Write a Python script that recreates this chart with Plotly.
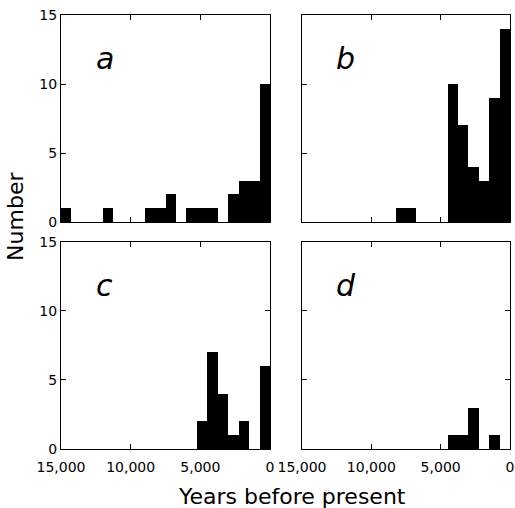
import plotly.graph_objects as go

# Bins: 750-year bins from 15,000 to 0 years before present
bin_width = 750
bin_starts = list(range(15000, 0, -bin_width))  # left (older) edge of each bin

counts_a = [1, 0, 0, 0, 1, 0, 0, 0, 1, 1, 2, 0, 1, 1, 1, 0, 2, 3, 3, 10]
counts_b = [0, 0, 0, 0, 0, 0, 0, 0, 0, 1, 1, 0, 0, 0, 10, 7, 4, 3, 9, 14]
counts_c = [0, 0, 0, 0, 0, 0, 0, 0, 0, 0, 0, 0, 0, 2, 7, 4, 1, 2, 0, 6]
counts_d = [0, 0, 0, 0, 0, 0, 0, 0, 0, 0, 0, 0, 0, 0, 1, 1, 3, 0, 1, 0]

panel_labels = ["a", "b", "c", "d"]
x_tick_vals = [15000, 10000, 5000, 0]
x_tick_text = ["15,000", "10,000", "5,000", "0"]
y_tick_vals = [0, 5, 10, 15]
y_tick_text = ["0", "5", "10", "15"]

centers = [s - bin_width / 2 for s in bin_starts]

FONT = "DejaVu Sans"
fig = go.Figure()

panels = [
    (counts_a, "x", "y", [0.0, 0.4655], [0.523, 1.0], True, False),
    (counts_b, "x2", "y2", [0.5367, 1.0], [0.523, 1.0], False, False),
    (counts_c, "x3", "y3", [0.0, 0.4655], [0.0, 0.477], True, True),
    (counts_d, "x4", "y4", [0.5367, 1.0], [0.0, 0.477], False, True),
]

layout = {}
for i, (cnt, xa, ya, xd, yd, show_y, show_x) in enumerate(panels):
    fig.add_trace(go.Bar(x=centers, y=cnt, width=bin_width, xaxis=xa, yaxis=ya,
                         marker=dict(color="black", line=dict(width=0)),
                         showlegend=False))
    xkey = "xaxis" if i == 0 else f"xaxis{i+1}"
    ykey = "yaxis" if i == 0 else f"yaxis{i+1}"
    layout[xkey] = dict(domain=xd, anchor=ya, range=[15000, 0], autorange=False,
                        tickvals=x_tick_vals, ticktext=x_tick_text,
                        showticklabels=show_x, ticks="inside", ticklen=5,
                        tickcolor="black", showline=True, linecolor="black",
                        linewidth=1, mirror="ticks", showgrid=False, zeroline=False,
                        automargin=False, ticklabelstandoff=5,
                        tickfont=dict(family=FONT, size=14, color="black"))
    layout[ykey] = dict(domain=yd, anchor=xa, range=[0, 15], autorange=False,
                        tickvals=y_tick_vals, ticktext=y_tick_text,
                        showticklabels=show_y, ticks="inside", ticklen=5,
                        tickcolor="black", showline=True, linecolor="black",
                        linewidth=1, mirror="ticks", showgrid=False, zeroline=False,
                        automargin=False,
                        tickfont=dict(family=FONT, size=14, color="black"))

annotations = []
for i, lab in enumerate(panel_labels):
    xa = "x" if i == 0 else f"x{i+1}"
    ya = "y" if i == 0 else f"y{i+1}"
    annotations.append(dict(text=lab, xref=f"{xa} domain", yref=f"{ya} domain",
                            x=0.21, y=0.79, showarrow=False,
                            xanchor="center", yanchor="middle",
                            font=dict(family=FONT, size=30, color="black", style="italic")))

annotations.append(dict(text="Years before present", xref="paper", yref="paper",
                        x=0.514, y=-0.11, showarrow=False, xanchor="center",
                        yanchor="middle", font=dict(family=FONT, size=22, color="black")))
annotations.append(dict(text="Number", xref="paper", yref="paper",
                        x=-0.1, y=0.535, showarrow=False, xanchor="center",
                        yanchor="middle", textangle=-90,
                        font=dict(family=FONT, size=22, color="black")))

fig.update_layout(**layout)
fig.update_layout(width=515, height=508,
                  margin=dict(l=61, r=5, t=15, b=59, autoexpand=False),
                  plot_bgcolor="white", paper_bgcolor="white", bargap=0,
                  annotations=annotations)

fig.write_html("out.html", config={"displayModeBar": False},
               post_script="document.body.style.margin='0';document.body.style.overflow='hidden';")
